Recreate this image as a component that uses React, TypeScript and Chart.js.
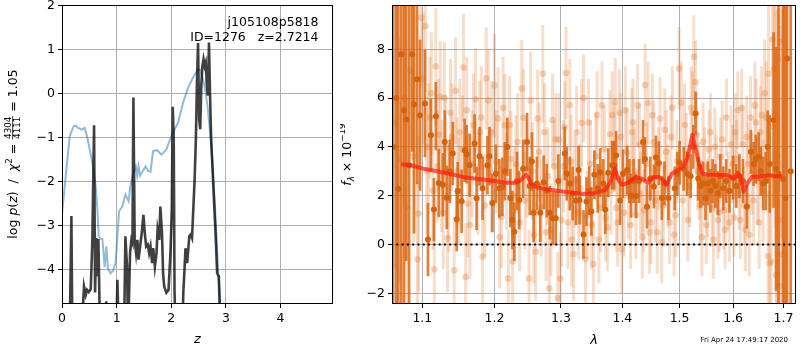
import React, { useEffect, useRef } from 'react';
import { Chart, registerables } from 'chart.js';
Chart.register(...registerables);

// ---------- left panel: redshift probability ----------
const zPz = [
  0.0, 0.141, 0.172, 0.19, 0.355, 0.403, 0.434, 0.458, 0.49, 0.526,
  0.556, 0.587, 0.605, 0.629, 0.647, 0.666, 0.697, 0.79, 0.81, 0.83,
  0.996, 1.014, 1.04, 1.136, 1.16, 1.19, 1.21, 1.246, 1.27, 1.29,
  1.307, 1.33, 1.356, 1.38, 1.40, 1.43, 1.46, 1.49, 1.515, 1.54,
  1.57, 1.595, 1.62, 1.65, 1.67, 1.70, 1.73, 1.75, 1.78, 1.80,
  1.83, 1.85, 1.87, 1.91, 1.95, 1.985, 2.01, 2.027, 2.045, 2.06,
  2.08, 2.205, 2.22, 2.245, 2.26, 2.29, 2.31, 2.33, 2.355, 2.38,
  2.40, 2.427, 2.45, 2.47, 2.49, 2.51, 2.53, 2.55, 2.57, 2.59,
  2.61, 2.63, 2.65, 2.67, 2.69, 2.71, 2.73, 2.77, 2.81, 2.84,
  2.87, 2.90, 2.95, 4.96,
];
const logPz = [
  -5.5, -5.5, -2.79, -5.5, -5.5, -4.39, -4.58, -4.47, -4.52, -4.45,
  -3.33, -0.72, -4.53, -3.29, -4.16, -3.31, -5.5, -5.5, -4.73, -5.5,
  -5.5, -4.24, -5.5, -5.5, -3.25, -3.94, -5.5, -3.63, -3.33, -3.40,
  -0.09, -3.33, -3.63, -3.33, -3.78, -3.48, -3.17, -2.76, -3.17, -3.48,
  -3.44, -3.63, -3.48, -3.86, -3.52, -3.94, -3.63, -3.10, -3.33, -2.57,
  -3.17, -4.09, -4.39, -4.53, -4.47, -3.63, -2.64, -0.30, -1.04, -4.53,
  -5.5, -5.5, -4.53, -3.94, -3.52, -3.86, -3.56, -3.25, -3.21, -3.29,
  -2.72, -1.96, -1.04, 0.25, 1.15, -0.59, -0.81, 0.20, 0.63, 0.78,
  0.63, 0.71, 0.20, -0.05, 1.16, -0.05, -1.04, -2.11, -3.17, -4.09,
  -4.16, -5.5, -6, -6,
];
const zChi = [
  0.0, 0.068, 0.141, 0.214, 0.25, 0.293, 0.33, 0.36, 0.416, 0.458,
  0.52, 0.568, 0.617, 0.648, 0.672, 0.70, 0.74, 0.78, 0.81, 0.84,
  0.886, 0.935, 0.98, 1.03, 1.045, 1.105, 1.16, 1.22, 1.25, 1.31,
  1.35, 1.375, 1.40, 1.43, 1.48, 1.53, 1.575, 1.62, 1.667, 1.74,
  1.82, 1.91, 2.0, 2.125, 2.215, 2.31, 2.40, 2.49, 2.53, 2.58,
  2.63, 2.67, 2.735, 2.797, 2.86, 2.90, 2.95,
];
const chiCurve = [
  -2.75, -1.88, -0.97, -0.74, -0.73, -0.78, -0.80, -0.82, -0.78, -0.97,
  -1.35, -1.65, -2.11, -2.64, -3.25, -3.30, -3.31, -3.95, -3.48, -3.97,
  -4.09, -4.03, -3.86, -2.95, -2.68, -2.57, -2.30, -2.45, -2.11, -1.80,
  -1.66, -1.87, -1.65, -1.87, -1.76, -1.66, -1.76, -1.78, -1.31, -1.29,
  -1.39, -1.28, -0.97, -0.66, -0.21, 0.14, 0.37, 0.55, 0.54, 0.33,
  0.02, -0.36, -1.20, -2.49, -4.09, -4.8, -6,
];
const zTicks = [0, 1, 2, 3, 4];
const pzTicks = [-4, -3, -2, -1, 0, 1, 2];

// ---------- right panel: spectrum ----------
const darkWave = [
  1.0620, 1.0660, 1.0686, 1.0724, 1.0760, 1.0788, 1.0826, 1.0866, 1.0891, 1.0931,
  1.0970, 1.1035, 1.1075, 1.1114, 1.1155, 1.1181, 1.1221, 1.1275, 1.1302, 1.1329,
  1.1370, 1.1411, 1.1466, 1.1480, 1.1534, 1.1576, 1.1604, 1.1645, 1.1716, 1.1744,
  1.1786, 1.1829, 1.1898, 1.1927, 1.1970, 1.2020, 1.2070, 1.2114, 1.2150, 1.2187,
  1.2230, 1.2260, 1.2290, 1.2330, 1.2362, 1.2421, 1.2480, 1.2520, 1.2554, 1.2580,
  1.2629, 1.2680, 1.2734, 1.2780, 1.2827, 1.2873, 1.2919, 1.2960, 1.3061, 1.3092,
  1.3140, 1.3186, 1.3240, 1.3280, 1.3296, 1.3359, 1.3407, 1.3450, 1.3487, 1.3535,
  1.3590, 1.3632, 1.3680, 1.3714, 1.3763, 1.3829, 1.3862, 1.3895, 1.3962, 1.4010,
  1.4080, 1.4120, 1.4148, 1.4190, 1.4233, 1.4284, 1.4353, 1.4387, 1.4422, 1.4480,
  1.4543, 1.4578, 1.4630, 1.4683, 1.4730, 1.4800, 1.4913, 1.4960, 1.5000, 1.5075,
  1.5140, 1.5201, 1.5250, 1.5292, 1.5340, 1.5383, 1.5430, 1.5475, 1.5520, 1.5568,
  1.5610, 1.5661, 1.5710, 1.5754, 1.5810, 1.5867, 1.5930, 1.6000, 1.6060, 1.6120,
  1.6190, 1.6268, 1.6346, 1.6400, 1.6444, 1.6500, 1.6542, 1.6590, 1.6641, 1.6680,
  1.6721, 1.6800, 1.6850, 1.6900, 1.6995, 1.7040, 1.7075, 1.7150,
];
const darkFlux = [
  4.0, 6.0, 2.27, 7.8, 5.5, 5.12, 3.25, 7.8, 5.75, 6.77,
  5.3, 5.78, 0.2, 4.48, 1.43, 5.26, 2.52, 2.45, 4.2, 1.93,
  3.0, 3.73, 1.02, 2.18, 1.77, 3.86, 3.70, 3.25, 4.14, 1.89,
  3.62, 2.30, 3.25, 3.62, 1.70, 2.9, 2.3, 2.36, 3.0, 4.0,
  1.9, 1.0, 0.52, 2.6, 1.82, 3.1, 4.2, 2.4, 3.4, 1.3,
  2.5, 1.3, 2.55, 2.2, 1.3, 1.07, 1.07, 2.6, 3.73, 2.9,
  2.5, 2.09, 1.8, 3.05, 1.82, 0.41, 1.76, 2.2, 1.35, 2.86,
  2.3, 2.95, 2.5, 1.43, 2.94, 3.25, 3.25, 3.65, 1.80, 2.9,
  3.05, 2.6, 2.0, 2.6, 1.99, 2.6, 4.2, 3.5, 1.55, 2.7,
  2.38, 3.56, 3.33, 1.9, 2.5, 1.9, 2.3, 2.9, 3.35, 3.1,
  2.9, 2.8, 4.0, 5.37, 2.7, 2.4, 2.5, 1.9, 2.5, 2.2,
  2.6, 2.4, 2.1, 2.8, 2.3, 2.6, 2.2, 2.74, 2.4, 2.8,
  2.6, 1.55, 3.8, 3.3, 3.5, 3.6, 3.0, 2.5, 2.6, 4.0,
  3.3, 5.1, 3.1, 2.9, 2.67, 1.9, 7.62, 3.0,
];
const darkErr = [
  15, 15, 12, 12, 8, 5.8, 8, 4.0, 5.3, 4.3,
  3.1, 2.2, 1.5, 1.5, 1.3, 1.4, 1.4, 1.3, 1.3, 1.3,
  1.3, 1.3, 1.3, 1.2, 1.3, 1.3, 1.2, 1.3, 1.2, 1.3,
  1.2, 1.3, 1.2, 1.2, 1.2, 1.2, 1.2, 1.2, 1.2, 1.2,
  1.2, 1.2, 1.2, 1.2, 1.2, 1.2, 1.2, 1.2, 1.2, 1.2,
  1.1, 1.2, 1.1, 1.1, 1.1, 1.1, 1.1, 1.1, 1.1, 1.1,
  1.1, 1.1, 1.0, 1.0, 1.0, 1.0, 1.0, 1.0, 1.0, 1.0,
  1.0, 1.0, 1.0, 1.0, 1.0, 1.0, 1.0, 1.0, 1.0, 1.0,
  1.0, 0.9, 0.9, 0.9, 0.9, 0.9, 0.9, 0.9, 0.9, 0.9,
  0.9, 0.9, 0.9, 0.9, 0.9, 0.9, 0.9, 0.9, 0.9, 0.9,
  0.9, 0.9, 0.9, 0.9, 0.9, 0.9, 0.9, 0.9, 0.9, 0.9,
  0.9, 0.9, 0.9, 0.9, 0.9, 0.9, 0.9, 0.9, 0.9, 0.9,
  0.9, 0.9, 0.9, 0.9, 1.0, 1.0, 1.0, 1.1, 1.2, 1.5,
  2.0, 3.6, 5.0, 8, 12, 12, 12, 15,
];
const faintWave = [
  1.0650, 1.0700, 1.0760, 1.0800, 1.0840, 1.0880, 1.0935, 1.0950, 1.0985, 1.1040,
  1.1080, 1.1120, 1.1160, 1.1200, 1.1240, 1.1280, 1.1310, 1.1340, 1.1380, 1.1430,
  1.1470, 1.1510, 1.1560, 1.1590, 1.1620, 1.1680, 1.1730, 1.1790, 1.1830, 1.1880,
  1.1910, 1.1950, 1.2000, 1.2050, 1.2100, 1.2150, 1.2200, 1.2240, 1.2290, 1.2340,
  1.2400, 1.2450, 1.2510, 1.2560, 1.2610, 1.2640, 1.2720, 1.2770, 1.2820, 1.2870,
  1.2920, 1.2990, 1.3040, 1.3080, 1.3140, 1.3170, 1.3220, 1.3280, 1.3330, 1.3390,
  1.3440, 1.3490, 1.3560, 1.3610, 1.3660, 1.3720, 1.3790, 1.3830, 1.3880, 1.3920,
  1.3970, 1.4030, 1.4080, 1.4140, 1.4180, 1.4230, 1.4290, 1.4340, 1.4390, 1.4440,
  1.4490, 1.4540, 1.4600, 1.4650, 1.4710, 1.4760, 1.4820, 1.4870, 1.4930, 1.4990,
  1.5030, 1.5090, 1.5150, 1.5210, 1.5260, 1.5290, 1.5330, 1.5380, 1.5430, 1.5490,
  1.5540, 1.5600, 1.5650, 1.5710, 1.5760, 1.5820, 1.5870, 1.5930, 1.5990, 1.6040,
  1.6090, 1.6140, 1.6190, 1.6240, 1.6290, 1.6340, 1.6400, 1.6450, 1.6510, 1.6560,
  1.6620, 1.6690, 1.6720, 1.6780, 1.6810, 1.6850, 1.6890, 1.6930, 1.6980,
  1.1010, 1.1060, 1.1100, 1.1140, 1.1180, 1.1220, 1.1260, 1.1295, 1.1355, 1.1400,
  1.1450, 1.1495, 1.1545, 1.1605, 1.1650, 1.1700, 1.1760, 1.1810, 1.1860, 1.1960,
  1.2025, 1.2075, 1.2125, 1.2175, 1.2220, 1.2265, 1.2315, 1.2370, 1.2425, 1.2475,
  1.2535, 1.2585, 1.2665, 1.2695, 1.2745, 1.2795, 1.2845, 1.2895, 1.2950, 1.2970,
  1.3010, 1.3060, 1.3110, 1.3160, 1.3200, 1.3250, 1.3310, 1.3360, 1.3420, 1.3470,
  1.3520, 1.3580, 1.3640, 1.3700, 1.3750, 1.3810, 1.3860, 1.3900, 1.3950, 1.3990,
  1.4050, 1.4100, 1.4160, 1.4210, 1.4260, 1.4310, 1.4365, 1.4415, 1.4465, 1.4515,
  1.4570, 1.4620, 1.4680, 1.4735, 1.4790, 1.4845, 1.4900, 1.4955, 1.5060, 1.5120,
  1.5180, 1.5235, 1.5310, 1.5360, 1.5410, 1.5460, 1.5515, 1.5570, 1.5625, 1.5680,
  1.5735, 1.5790, 1.5845, 1.5900, 1.5960, 1.6015, 1.6065, 1.6115, 1.6165, 1.6215,
  1.6265, 1.6315, 1.6370, 1.6425, 1.6480, 1.6535, 1.6590, 1.6650, 1.6700, 1.6750,
  1.6830, 1.6870, 1.6910, 1.6950,
];
const faintFlux = [
  5.0, 3.5, 6.0, 1.5, 7.13, 3.6, -0.61, 1.27, 9.3, 8.95,
  4.0, 6.2, -1.02, 3.2, 6.05, 1.3, 3.95, 0.25, 5.4, -1.06,
  3.0, 4.6, 7.25, -1.33, 1.67, 3.3, 5.94, 4.61, -0.5, 6.8,
  5.9, 2.6, 6.52, 5.16, 1.13, 4.89, -1.4, 3.5, 2.0, 4.2,
  6.39, 1.8, -1.4, 3.0, -0.3, 5.16, 7.0, 0.5, -1.8, 5.1,
  4.3, -1.4, 3.2, 7.03, 5.71, 0.2, 2.6, 1.3, 4.98, -0.6,
  5.0, 0.8, 3.6, 0.2, 5.7, 1.1, 4.52, 5.3, 5.84, 0.9,
  4.4, 1.3, 3.8, 0.8, 5.0, 1.2, 4.1, 0.3, 6.53, 5.8,
  0.9, 4.2, 0.5, 5.16, 1.6, 3.8, 0.9, 5.6, 1.2, 7.21,
  5.8, 4.9, 1.0, 5.6, 7.69, 6.65, 3.0, 1.6, 4.2, 0.8,
  3.9, 1.5, 4.0, 1.0, 3.6, 1.4, 5.2, 0.9, 3.3, 4.6,
  5.5, 1.0, 4.1, 0.6, 3.3, 5.2, 1.8, 5.0, 0.9, 5.3,
  6.2, -0.48, -0.77, 8.4, 7.2, -1.25, 7.6, 1.0, -0.4,
  6.8, 3.0, 5.2, 2.2, 7.3, 4.5, 2.8, 6.0, 1.9, 4.4,
  6.3, 2.2, 3.9, 5.5, 0.8, 4.9, 2.5, 5.2, 1.6, 4.6,
  3.4, 0.3, 5.6, 2.6, 4.9, -0.7, 3.3, 0.9, 5.2, 3.1,
  5.9, 0.4, 3.8, 1.5, 4.6, 2.8, 0.6, 3.2, -2.2, 4.3,
  1.0, 4.8, 0.9, 3.4, -0.4, 4.6, 2.3, 6.0, 1.2, 3.3,
  -0.8, 5.3, 1.5, 3.9, 0.7, 2.2, 4.0, 1.5, 5.4, -0.2,
  5.5, 2.0, 4.6, 3.0, 5.7, 2.1, 1.4, 3.3, 0.5, 5.3,
  1.8, 3.1, 0.1, 4.7, 2.4, 4.4, 0.4, 3.4, 1.8, 3.7,
  2.4, 5.4, 4.5, 2.6, 0.3, 3.2, 1.9, 4.6, 0.2, 2.9,
  1.3, 4.3, 0.6, 2.2, 4.1, 1.1, 3.5, 2.2, 5.6, 1.6,
  4.4, 0.4, 2.9, 5.7, 2.6, 4.6, 2.2, 5.2, 7.0, -0.7,
  5.3, 3.6, -1.7, 8.3,
];
const faintErr = [
  6, 5, 4.5, 4.5, 3.5, 3.5, 3.2, 3.2, 2.8, 2.7,
  2.6, 2.5, 2.3, 2.3, 2.3, 2.3, 2.2, 2.2, 2.2, 2.2,
  2.2, 2.2, 2.2, 2.2, 2.2, 2.2, 2.1, 2.1, 2.1, 2.1,
  2.1, 2.1, 2.1, 2.1, 2.1, 2.1, 2.0, 2.0, 2.0, 2.0,
  2.0, 2.0, 2.0, 2.0, 2.0, 2.0, 2.0, 2.0, 2.0, 1.9,
  1.9, 1.9, 1.9, 1.9, 1.9, 1.9, 1.9, 1.9, 1.8, 1.8,
  1.8, 1.8, 1.8, 1.8, 1.8, 1.8, 1.8, 1.8, 1.8, 1.8,
  1.8, 1.8, 1.8, 1.8, 1.8, 1.8, 1.7, 1.7, 1.7, 1.7,
  1.7, 1.7, 1.7, 1.7, 1.7, 1.7, 1.7, 1.7, 1.7, 1.7,
  1.7, 1.7, 1.7, 1.7, 1.7, 1.7, 1.6, 1.6, 1.6, 1.6,
  1.6, 1.6, 1.6, 1.6, 1.6, 1.6, 1.6, 1.6, 1.6, 1.6,
  1.6, 1.6, 1.6, 1.7, 1.7, 1.7, 1.8, 1.8, 1.9, 2.0,
  2.2, 2.7, 3.2, 3.7, 4.2, 5.2, 6.2, 8, 10,
  2.7, 2.6, 2.5, 2.4, 2.4, 2.3, 2.3, 2.3, 2.2, 2.2,
  2.2, 2.2, 2.2, 2.2, 2.2, 2.1, 2.1, 2.1, 2.1, 2.1,
  2.1, 2.1, 2.1, 2.0, 2.0, 2.0, 2.0, 2.0, 2.0, 2.0,
  2.0, 2.0, 2.0, 2.0, 2.0, 2.0, 1.9, 1.9, 1.9, 1.9,
  1.9, 1.9, 1.9, 1.9, 1.9, 1.9, 1.8, 1.8, 1.8, 1.8,
  1.8, 1.8, 1.8, 1.8, 1.8, 1.8, 1.8, 1.8, 1.8, 1.8,
  1.8, 1.8, 1.8, 1.8, 1.7, 1.7, 1.7, 1.7, 1.7, 1.7,
  1.7, 1.7, 1.7, 1.7, 1.7, 1.7, 1.7, 1.7, 1.7, 1.7,
  1.7, 1.7, 1.7, 1.6, 1.6, 1.6, 1.6, 1.6, 1.6, 1.6,
  1.6, 1.6, 1.6, 1.6, 1.6, 1.6, 1.6, 1.6, 1.6, 1.6,
  1.7, 1.7, 1.7, 1.8, 1.8, 1.9, 2.1, 2.3, 2.8, 3.6,
  4.6, 6.0, 7, 8,
];
const modelWave = [
  1.0724, 1.0840, 1.1013, 1.1235, 1.1553, 1.1882, 1.2170, 1.2317, 1.2391, 1.2465,
  1.2500, 1.2540, 1.2615, 1.2715, 1.3024, 1.3340, 1.3501, 1.3610, 1.3719, 1.3801,
  1.3872, 1.3939, 1.3994, 1.4107, 1.4221, 1.4334, 1.4437, 1.4536, 1.4623, 1.4711,
  1.4769, 1.4858, 1.4978, 1.5085, 1.5145, 1.5235, 1.5297, 1.5358, 1.5419, 1.5511,
  1.5887, 1.6014, 1.6091, 1.6142, 1.6206, 1.6270, 1.6368, 1.6535, 1.6737, 1.6838,
  1.6974,
];
const modelFlux = [
  3.29, 3.25, 3.11, 2.98, 2.77, 2.64, 2.53, 2.53, 2.65, 2.86,
  2.75, 2.50, 2.36, 2.29, 2.17, 2.08, 2.08, 2.15, 2.25, 2.56,
  3.11, 2.63, 2.45, 2.53, 2.77, 2.70, 2.53, 2.77, 2.77, 2.63,
  2.45, 2.90, 3.06, 3.25, 3.58, 4.50, 3.90, 3.30, 2.90, 2.87,
  2.84, 2.70, 2.93, 2.77, 2.16, 2.49, 2.77, 2.80, 2.84, 2.80,
  2.80,
];
const waveTicks = [1.1, 1.2, 1.3, 1.4, 1.5, 1.6, 1.7];
const fluxTicks = [-2, 0, 2, 4, 6, 8];

const FONT = 'DejaVu Sans';
const GRID = '#b0b0b0';
const minus = (v: number) => (v < 0 ? '\u2212' + Math.abs(v) : String(v));

const framePlugin = {
  id: 'frame',
  afterDraw(chart: any) {
    const { ctx, chartArea: a } = chart;
    ctx.save();
    ctx.strokeStyle = '#000';
    ctx.lineWidth = 1;
    ctx.strokeRect(Math.round(a.left) + 0.5, Math.round(a.top) + 0.5, Math.round(a.right - a.left) - 1, Math.round(a.bottom - a.top) - 1);
    ctx.restore();
  },
};

const errorBarPlugin = {
  id: 'errbars',
  beforeDatasetDraw(chart: any, args: any) {
    const ds = chart.data.datasets[args.index];
    if (!ds.yErr) return;
    const { ctx, chartArea: a, scales } = chart;
    const xs = scales.x, ys = scales.y;
    ctx.save();
    ctx.beginPath();
    ctx.rect(a.left, a.top, a.right - a.left, a.bottom - a.top);
    ctx.clip();
    ctx.strokeStyle = ds.barColor;
    ctx.lineWidth = ds.barWidth;
    ctx.lineCap = 'butt';
    ds.data.forEach((p: any, i: number) => {
      const e = ds.yErr[i];
      const px = xs.getPixelForValue(p.x);
      ctx.beginPath();
      ctx.moveTo(px, ys.getPixelForValue(p.y - e));
      ctx.lineTo(px, ys.getPixelForValue(p.y + e));
      ctx.stroke();
    });
    ctx.restore();
  },
};

type Piece = { t: string; f: string; dy?: number } | { frac: [string, string]; f: string; axis: number };

function drawRotated(ctx: CanvasRenderingContext2D, pieces: Piece[], cx: number, cy: number) {
  ctx.save();
  ctx.translate(cx, cy);
  ctx.rotate(-Math.PI / 2);
  ctx.fillStyle = '#000';
  ctx.textBaseline = 'alphabetic';
  ctx.textAlign = 'left';
  const widths = pieces.map((p: any) => {
    ctx.font = p.f;
    if (p.frac) return Math.max(ctx.measureText(p.frac[0]).width, ctx.measureText(p.frac[1]).width) + 2;
    return ctx.measureText(p.t).width;
  });
  const total = widths.reduce((s, w) => s + w, 0);
  let x = -total / 2;
  pieces.forEach((p: any, i) => {
    ctx.font = p.f;
    if (p.frac) {
      const w = widths[i];
      const n = ctx.measureText(p.frac[0]).width;
      const d = ctx.measureText(p.frac[1]).width;
      ctx.fillText(p.frac[0], x + (w - n) / 2, -p.axis - 1.8);
      ctx.fillText(p.frac[1], x + (w - d) / 2, -p.axis + 7.6);
      ctx.fillRect(x + 0.5, -p.axis - 0.4, w - 1, 0.8);
    } else {
      ctx.fillText(p.t, x, p.dy || 0);
    }
    x += widths[i];
  });
  ctx.restore();
}

const leftDecor = {
  id: 'leftDecor',
  afterDraw(chart: any) {
    const ctx = chart.ctx as CanvasRenderingContext2D;
    const a = chart.chartArea;
    ctx.save();
    ctx.fillStyle = '#000';
    ctx.font = `12.5px "${FONT}"`;
    ctx.textAlign = 'right';
    ctx.textBaseline = 'alphabetic';
    ctx.fillText('j105108p5818', 318.5, 26);
    ctx.fillText('ID=1276   z=2.7214', 318.5, 40.5);
    ctx.textAlign = 'center';
    ctx.font = `italic 13px "${FONT}"`;
    ctx.fillText('z', (a.left + a.right) / 2, 343);
    ctx.restore();
    const up = `12.5px "${FONT}"`;
    const it = `italic 12.5px "${FONT}"`;
    const sm = `8.75px "${FONT}"`;
    drawRotated(ctx, [
      { t: 'log ', f: up },
      { t: 'p', f: it },
      { t: '(', f: up },
      { t: 'z', f: it },
      { t: ')  /  ', f: up },
      { t: 'χ', f: it },
      { t: '2', f: sm, dy: -5 },
      { t: ' = ', f: up },
      { frac: ['4304', '4111'], f: sm, axis: 4 },
      { t: ' = 1.05', f: up },
    ], 16.7, 154);
  },
};

const rightDecor = {
  id: 'rightDecor',
  afterDraw(chart: any) {
    const ctx = chart.ctx as CanvasRenderingContext2D;
    const a = chart.chartArea;
    ctx.save();
    ctx.fillStyle = '#000';
    ctx.textBaseline = 'alphabetic';
    ctx.textAlign = 'center';
    ctx.font = `italic 13px "${FONT}"`;
    ctx.fillText('λ', (a.left + a.right) / 2, 344);
    ctx.textAlign = 'right';
    ctx.font = `7px "${FONT}"`;
    ctx.fillText('Fri Apr 24 17:49:17 2020', 448, 342);
    ctx.restore();
    const up = `12.5px "${FONT}"`;
    const it = `italic 12.5px "${FONT}"`;
    const smi = `italic 8.75px "${FONT}"`;
    const sm = `8.75px "${FONT}"`;
    drawRotated(ctx, [
      { t: 'f', f: it },
      { t: 'λ', f: smi, dy: 2.8 },
      { t: ' × 10', f: up },
      { t: '\u221219', f: sm, dy: -5.5 },
    ], 10.7, 154.5);
  },
};

function baseScale(extra: any) {
  return {
    grid: { color: GRID, lineWidth: 1, tickColor: '#000', tickLength: 4, drawTicks: true },
    border: { display: false },
    ticks: { color: '#000', font: { family: FONT, size: 12.5 }, padding: 3, autoSkip: false, maxRotation: 0, minRotation: 0 },
    ...extra,
  };
}

export default function App() {
  const leftRef = useRef<HTMLCanvasElement>(null);
  const rightRef = useRef<HTMLCanvasElement>(null);

  useEffect(() => {
    const left = new Chart(leftRef.current!, {
      type: 'line',
      data: {
        datasets: [
          {
            data: zPz.map((z, i) => ({ x: z, y: logPz[i] })),
            borderColor: 'rgba(0,0,0,0.75)',
            borderWidth: 2.6,
            pointRadius: 0,
            tension: 0,
            order: 0,
          } as any,
          {
            data: zChi.map((z, i) => ({ x: z, y: chiCurve[i] })),
            borderColor: 'rgba(31,119,180,0.5)',
            borderWidth: 2,
            pointRadius: 0,
            tension: 0,
            order: 1,
          },
        ],
      },
      options: {
        animation: false,
        responsive: false,
        maintainAspectRatio: false,
        layout: { padding: { left: 0, right: 7, top: 5, bottom: 0 } },
        plugins: { legend: { display: false }, tooltip: { enabled: false } },
        scales: {
          x: baseScale({
            type: 'linear',
            min: 0,
            max: 4.96,
            afterBuildTicks: (s: any) => { s.ticks = zTicks.map((v) => ({ value: v })); },
            afterFit: (s: any) => { s.height = 46; s.paddingLeft = 0; s.paddingRight = 0; },
          }),
          y: baseScale({
            type: 'linear',
            min: -4.79,
            max: 2.015,
            afterBuildTicks: (s: any) => { s.ticks = pzTicks.map((v) => ({ value: v })); },
            afterFit: (s: any) => { s.width = 62; s.paddingTop = 0; s.paddingBottom = 0; },
          }),
        },
      } as any,
      plugins: [framePlugin, leftDecor],
    });
    (left.options.scales as any).x.ticks.callback = (v: number) => minus(v);
    (left.options.scales as any).y.ticks.callback = (v: number) => minus(v);
    left.update();

    const right = new Chart(rightRef.current!, {
      type: 'scatter',
      data: {
        datasets: [
          {
            type: 'line',
            data: [{ x: 1.0, y: 0 }, { x: 1.8, y: 0 }],
            borderColor: '#000',
            borderWidth: 2,
            borderDash: [2, 3.3],
            pointRadius: 0,
            order: 0,
          } as any,
          {
            type: 'line',
            data: modelWave.map((w, i) => ({ x: w, y: modelFlux[i] })),
            borderColor: 'rgba(255,25,15,0.7)',
            borderWidth: 4,
            borderJoinStyle: 'round',
            pointRadius: 0,
            tension: 0,
            order: 1,
          },
          {
            data: darkWave.map((w, i) => ({ x: w, y: darkFlux[i] })),
            yErr: darkErr,
            barColor: 'rgba(217,100,15,0.82)',
            barWidth: 2.7,
            pointRadius: 3,
            pointBackgroundColor: 'rgb(214,98,12)',
            pointBorderWidth: 0,
            order: 2,
          },
          {
            data: faintWave.map((w, i) => ({ x: w, y: faintFlux[i] })),
            yErr: faintErr,
            barColor: 'rgba(230,130,60,0.27)',
            barWidth: 3,
            pointRadius: 3.3,
            pointBackgroundColor: 'rgba(230,130,60,0.35)',
            pointBorderWidth: 0,
            order: 3,
          },
        ] as any,
      },
      options: {
        animation: false,
        responsive: false,
        maintainAspectRatio: false,
        layout: { padding: { left: 0, right: 1, top: 5, bottom: 0 } },
        plugins: { legend: { display: false }, tooltip: { enabled: false } },
        scales: {
          x: baseScale({
            type: 'logarithmic',
            min: 1.0605,
            max: 1.726,
            afterBuildTicks: (s: any) => { s.ticks = waveTicks.map((v) => ({ value: v })); },
            afterFit: (s: any) => { s.height = 46; s.paddingLeft = 0; s.paddingRight = 0; },
          }),
          y: baseScale({
            type: 'linear',
            min: -2.44,
            max: 9.816,
            afterBuildTicks: (s: any) => { s.ticks = fluxTicks.map((v) => ({ value: v })); },
            afterFit: (s: any) => { s.width = 52; s.paddingTop = 0; s.paddingBottom = 0; },
          }),
        },
      } as any,
      plugins: [errorBarPlugin, framePlugin, rightDecor],
    });
    (right.options.scales as any).x.ticks.callback = (v: number) => Number(v).toFixed(1);
    (right.options.scales as any).y.ticks.callback = (v: number) => minus(v);
    right.update();

    return () => {
      left.destroy();
      right.destroy();
    };
  }, []);

  return (
    <div style={{ position: 'absolute', left: 0, top: 0, width: 800, height: 350, background: '#fff' }}>
      <canvas ref={leftRef} width={340} height={350} style={{ position: 'absolute', left: 0, top: 0, width: 340, height: 350 }} />
      <canvas ref={rightRef} width={460} height={350} style={{ position: 'absolute', left: 340, top: 0, width: 460, height: 350 }} />
    </div>
  );
}
